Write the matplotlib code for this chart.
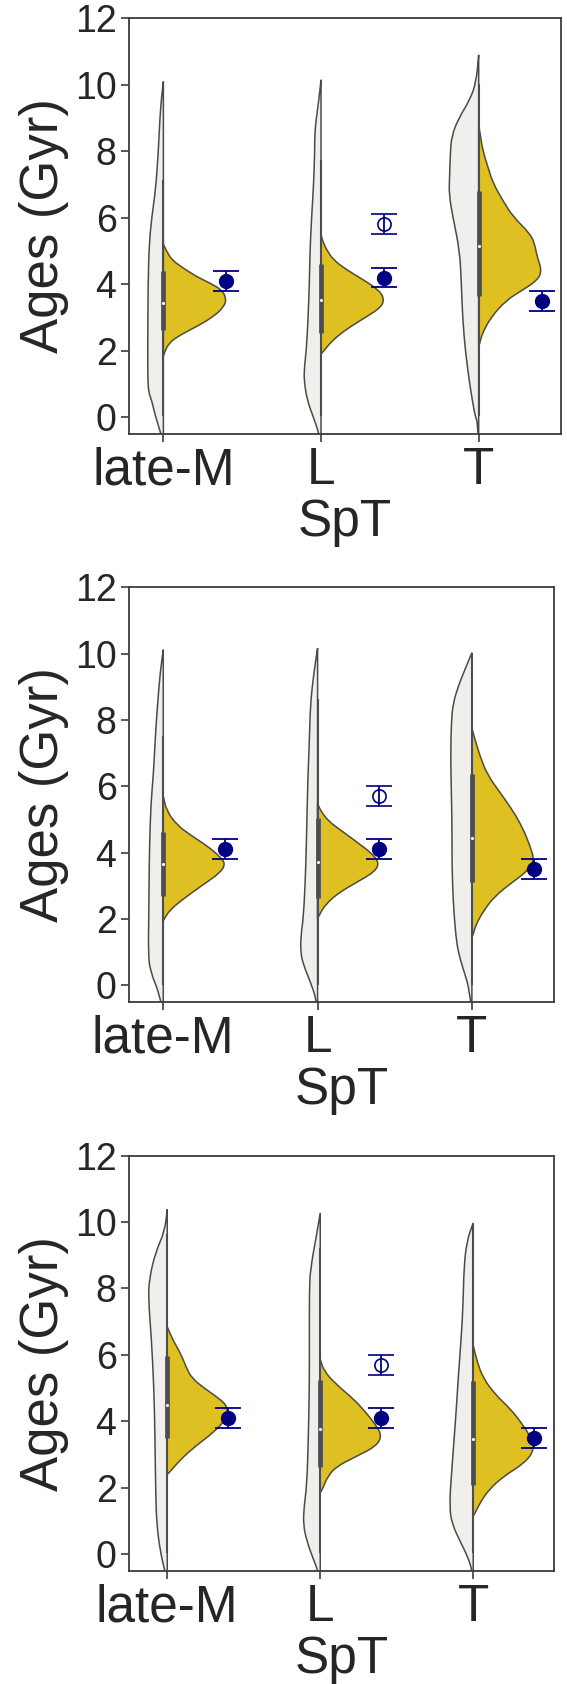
import matplotlib
matplotlib.use("Agg")
import matplotlib.pyplot as plt
from matplotlib.path import Path
from matplotlib.patches import PathPatch

# spectral type groups
spt = ["late-M", "L", "T"]

# half-violin profiles: (age in Gyr, half width in x units)
# "all" = left light half, "sel" = right gold half
# top panel
p1_lateM_all = [(-0.8, 0), (-0.5, 0.015), (0.0, 0.049), (0.5, 0.074), (0.75, 0.094), (1.2, 0.099),
                (2.3, 0.099), (4.0, 0.097), (5.2, 0.09), (6.0, 0.074), (6.9, 0.048), (8.0, 0.032),
                (9.0, 0.022), (9.6, 0.012), (10.1, 0)]
p1_lateM_sel = [(1.85, 0), (1.92, 0.006), (2.22, 0.032), (2.47, 0.106), (2.72, 0.21), (3.02, 0.317),
                (3.32, 0.385), (3.57, 0.40), (3.83, 0.37), (4.03, 0.296), (4.23, 0.21), (4.48, 0.127),
                (4.73, 0.053), (5.0, 0.02), (5.2, 0)]
p1_L_all = [(-0.8, 0), (-0.49, 0.013), (0.0, 0.049), (0.5, 0.087), (1.0, 0.105), (1.4, 0.108),
            (2.0, 0.093), (3.0, 0.082), (4.0, 0.074), (5.0, 0.07), (6.0, 0.06), (7.0, 0.047),
            (8.0, 0.04), (8.5, 0.04), (9.0, 0.03), (9.5, 0.015), (10.15, 0)]
p1_L_sel = [(1.9, 0), (1.97, 0.015), (2.17, 0.047), (2.42, 0.1), (2.72, 0.185), (3.02, 0.29),
            (3.32, 0.385), (3.58, 0.40), (3.83, 0.364), (4.13, 0.269), (4.43, 0.163), (4.73, 0.078),
            (5.03, 0.036), (5.3, 0.01), (5.5, 0)]
p1_T_all = [(-0.8, 0), (-0.14, 0.007), (0.0, 0.021), (0.5, 0.04), (1.0, 0.057), (2.0, 0.085),
            (2.9, 0.1), (3.5, 0.106), (4.0, 0.11), (5.0, 0.12), (6.0, 0.163), (6.7, 0.188),
            (7.2, 0.185), (7.9, 0.18), (8.46, 0.172), (9.0, 0.126), (9.54, 0.057), (10.07, 0.016),
            (10.9, 0)]
p1_T_sel = [(2.1, 0), (2.22, 0.006), (2.52, 0.023), (3.02, 0.08), (3.52, 0.176), (3.83, 0.281),
            (4.13, 0.376), (4.43, 0.40), (4.83, 0.37), (5.22, 0.355), (5.53, 0.324), (6.03, 0.218),
            (6.5, 0.155), (7.04, 0.091), (7.5, 0.06), (8.04, 0.025), (8.5, 0.01), (8.8, 0)]

# middle panel
p2_lateM_all = [(-0.8, 0), (-0.27, 0.023), (0.43, 0.085), (0.97, 0.097), (2.05, 0.094), (3.12, 0.092),
                (4.2, 0.089), (5.49, 0.08), (6.35, 0.064), (7.43, 0.052), (8.29, 0.04), (9.15, 0.025),
                (9.6, 0.015), (10.12, 0)]
p2_lateM_sel = [(1.95, 0), (1.99, 0.005), (2.26, 0.04), (2.58, 0.122), (3.01, 0.25), (3.39, 0.368),
                (3.66, 0.403), (3.88, 0.368), (4.2, 0.286), (4.52, 0.18), (4.84, 0.087), (5.27, 0.021),
                (5.7, 0)]
p2_L_all = [(-0.8, 0), (-0.43, 0.007), (0.11, 0.047), (0.6, 0.09), (0.97, 0.11), (1.51, 0.108),
            (2.05, 0.092), (3.12, 0.08), (4.2, 0.073), (5.27, 0.068), (6.35, 0.062), (7.43, 0.053),
            (8.5, 0.046), (9.26, 0.028), (9.7, 0.015), (10.17, 0)]
p2_L_sel = [(2.0, 0), (2.15, 0.012), (2.48, 0.059), (2.8, 0.14), (3.12, 0.258), (3.44, 0.375),
            (3.71, 0.398), (3.98, 0.351), (4.31, 0.258), (4.63, 0.164), (4.95, 0.07), (5.27, 0.019),
            (5.49, 0)]
p2_T_all = [(-0.8, 0), (-0.11, 0.016), (0.43, 0.052), (0.97, 0.087), (1.51, 0.105), (2.58, 0.122),
            (3.66, 0.129), (4.74, 0.129), (5.81, 0.133), (6.89, 0.138), (7.97, 0.133), (8.5, 0.122),
            (9.04, 0.087), (9.58, 0.04), (10.03, 0)]
p2_T_sel = [(1.45, 0), (1.51, 0.007), (1.83, 0.026), (2.26, 0.077), (2.69, 0.148), (3.12, 0.265),
            (3.44, 0.358), (3.77, 0.405), (4.2, 0.377), (4.74, 0.33), (5.27, 0.265), (5.81, 0.183),
            (6.35, 0.1), (6.89, 0.054), (7.43, 0.019), (7.75, 0)]

# bottom panel
p3_lateM_all = [(-0.8, 0), (-0.49, 0.017), (0.07, 0.045), (0.89, 0.069), (1.92, 0.076), (3.46, 0.08),
                (4.99, 0.087), (6.53, 0.104), (7.66, 0.123), (8.28, 0.118), (9.1, 0.076), (9.71, 0.017),
                (10.38, 0)]
p3_lateM_sel = [(2.4, 0), (2.48, 0.019), (2.84, 0.085), (3.25, 0.184), (3.66, 0.303), (4.07, 0.385),
                (4.43, 0.397), (4.69, 0.338), (4.99, 0.243), (5.3, 0.16), (5.61, 0.125), (6.02, 0.09),
                (6.43, 0.038), (6.84, 0)]
p3_L_all = [(-0.8, 0), (-0.49, 0.016), (-0.13, 0.047), (0.38, 0.087), (0.89, 0.111), (1.41, 0.106),
            (2.12, 0.087), (3.46, 0.078), (4.99, 0.071), (6.53, 0.071), (7.97, 0.071), (8.59, 0.064),
            (9.61, 0.024), (10.27, 0)]
p3_L_sel = [(1.85, 0), (1.92, 0.012), (2.33, 0.047), (2.64, 0.106), (2.94, 0.236), (3.25, 0.366),
            (3.56, 0.402), (3.87, 0.366), (4.28, 0.296), (4.69, 0.213), (5.1, 0.106), (5.51, 0.024),
            (5.87, 0)]
p3_T_all = [(-0.8, 0), (-0.49, 0.008), (-0.13, 0.031), (0.38, 0.085), (0.89, 0.137), (1.41, 0.156),
            (2.43, 0.142), (3.46, 0.125), (4.48, 0.109), (5.51, 0.095), (6.53, 0.078), (7.56, 0.066),
            (8.58, 0.061), (9.41, 0.043), (9.97, 0)]
p3_T_sel = [(1.15, 0), (1.2, 0.009), (1.51, 0.04), (1.92, 0.099), (2.33, 0.194), (2.74, 0.336),
            (3.15, 0.402), (3.56, 0.371), (3.97, 0.312), (4.38, 0.241), (4.79, 0.147), (5.3, 0.064),
            (5.82, 0.024), (6.28, 0)]

# box stats of the light half (q1, median, q3, whisker low, whisker high) per SpT
p1_q1 = [2.62, 2.54, 3.64]
p1_med = [3.42, 3.51, 5.14]
p1_q3 = [4.41, 4.60, 6.79]
p1_wlo = [0.05, 0.05, 0.05]
p1_whi = [7.1, 7.7, 10.0]
p2_q1 = [2.71, 2.64, 3.12]
p2_med = [3.66, 3.71, 4.43]
p2_q3 = [4.63, 5.04, 6.37]
p2_wlo = [0.05, 0.05, 0.05]
p2_whi = [7.5, 8.6, 10.0]
p3_q1 = [3.51, 2.62, 2.07]
p3_med = [4.50, 3.76, 3.48]
p3_q3 = [5.97, 5.25, 5.20]
p3_wlo = [0.05, 0.05, 0.05]
p3_whi = [9.6, 9.2, 9.9]

# measured ages with errors (filled), and the alternative L age (open)
p1_age = [4.1, 4.2, 3.5]
p2_age = [4.1, 4.1, 3.5]
p3_age = [4.1, 4.1, 3.5]
age_err = [0.3, 0.3, 0.3]
p1_L_alt = 5.8
p2_L_alt = 5.7
p3_L_alt = 5.7
alt_err = 0.3

panels = [
    dict(all=[p1_lateM_all, p1_L_all, p1_T_all], sel=[p1_lateM_sel, p1_L_sel, p1_T_sel],
         q1=p1_q1, med=p1_med, q3=p1_q3, wlo=p1_wlo, whi=p1_whi, age=p1_age, alt=p1_L_alt,
         box=(129, 561.3, 18.3, 433.7), xlim=(-0.218, 2.524)),
    dict(all=[p2_lateM_all, p2_L_all, p2_T_all], sel=[p2_lateM_sel, p2_L_sel, p2_T_sel],
         q1=p2_q1, med=p2_med, q3=p2_q3, wlo=p2_wlo, whi=p2_whi, age=p2_age, alt=p2_L_alt,
         box=(129, 553.7, 587.3, 1002), xlim=(-0.222, 2.53)),
    dict(all=[p3_lateM_all, p3_L_all, p3_T_all], sel=[p3_lateM_sel, p3_L_sel, p3_T_sel],
         q1=p3_q1, med=p3_med, q3=p3_q3, wlo=p3_wlo, whi=p3_whi, age=p3_age, alt=p3_L_alt,
         box=(129, 553.7, 1155.5, 1570.7), xlim=(-0.25, 2.526)),
]

grey = '#f0efeb'
gold = '#dfc022'
edge = '#4a4a4a'
navy = '#000080'
spine_c = '#3c3c3c'


def half_violin(ax, prof, center, side, color):
    # smooth outline through the read profile (quadratic bezier segments), closed along the centre
    pts = [(center + side * w, y) for y, w in prof]
    verts = [pts[0]]
    codes = [Path.MOVETO]
    for k in range(1, len(pts) - 1):
        nxt = ((pts[k][0] + pts[k + 1][0]) / 2, (pts[k][1] + pts[k + 1][1]) / 2)
        verts += [pts[k], nxt]
        codes += [Path.CURVE3, Path.CURVE3]
    verts += [pts[-1], (center, prof[0][0])]
    codes += [Path.LINETO, Path.LINETO]
    verts.append(pts[0])
    codes.append(Path.CLOSEPOLY)
    ax.add_patch(PathPatch(Path(verts, codes), facecolor=color, edgecolor=edge, lw=1.1, zorder=1))


plt.rcParams['font.family'] = ['Liberation Sans', 'DejaVu Sans']
W, H = 567, 1684
fig = plt.figure(figsize=(W / 100, H / 100), dpi=100)

for p in panels:
    l, r, t, b = p['box']
    ax = fig.add_axes([l / W, 1 - b / H, (r - l) / W, (b - t) / H])
    for i in range(len(spt)):
        half_violin(ax, p['all'][i], i, -1, grey)
        half_violin(ax, p['sel'][i], i, 1, gold)
        # inner box
        ax.plot([i, i], [p['wlo'][i], p['whi'][i]], color='#4d4d4d', lw=1.5, zorder=2)
        ax.plot([i, i], [p['q1'][i], p['q3'][i]], color='#4d4d4d', lw=3.4,
                solid_capstyle='butt', zorder=3)
        ax.plot(i, p['med'][i], 'o', color='white', ms=2.2, mew=0, zorder=4)

    xs = [i + 0.4 for i in range(len(spt))]
    ax.errorbar(xs, p['age'], yerr=age_err, fmt='o', color=navy, ms=10, elinewidth=1.3,
                capsize=9.4, capthick=1.3, zorder=5)
    ax.errorbar([1.4], [p['alt']], yerr=[alt_err], fmt='o', color=navy, mfc='none', mec=navy,
                ms=9.5, mew=1.2, elinewidth=1.3, capsize=9.4, capthick=1.3, zorder=5)

    ax.set_xlim(*p['xlim'])
    ax.set_ylim(-0.5, 12)
    ax.set_yticks(range(0, 13, 2))
    ax.set_xticks(range(len(spt)))
    ax.set_xticklabels(spt)
    ax.tick_params(axis='y', labelsize=27, length=6, width=1.2, color=spine_c, labelcolor='#262626', pad=3)
    ax.tick_params(axis='x', labelsize=37, length=6, width=1.2, color=spine_c, labelcolor='#262626', pad=3)
    for s in ax.spines.values():
        s.set_color(spine_c)
        s.set_linewidth(1.3)
    ax.set_ylabel('Ages (Gyr)', fontsize=38, color='#262626', labelpad=4)
    ax.set_xlabel('SpT', fontsize=37, color='#262626', labelpad=2)

fig.savefig('out.png', dpi=100)
